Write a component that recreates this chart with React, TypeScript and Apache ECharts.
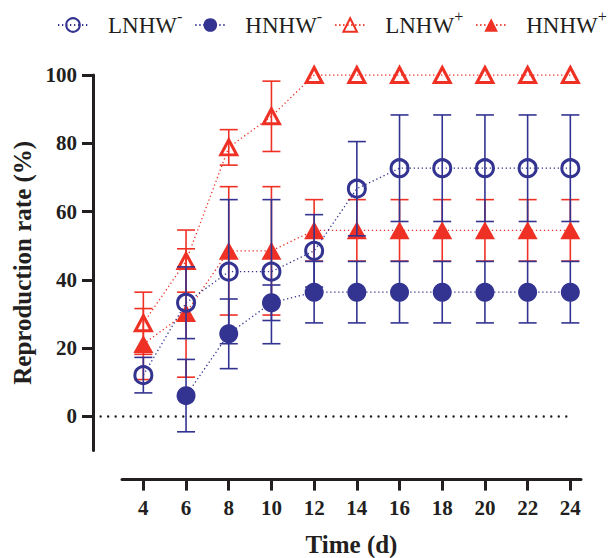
import React, { useEffect, useRef } from 'react';
import * as echarts from 'echarts';

// ---- data ----
const days = [4, 6, 8, 10, 12, 14, 16, 18, 20, 22, 24];
const yTicks = [0, 20, 40, 60, 80, 100];

const lnhwMinus = [12.1, 33.3, 42.4, 42.4, 48.5, 66.7, 72.7, 72.7, 72.7, 72.7, 72.7];
const lnhwMinusErr = [5.2, 10.5, 21.1, 21.1, 10.6, 13.8, 15.6, 15.6, 15.6, 15.6, 15.6];
const hnhwMinus = [null, 6.1, 24.2, 33.3, 36.4, 36.4, 36.4, 36.4, 36.4, 36.4, 36.4];
const hnhwMinusErr = [null, 10.6, 10.2, 5.2, 9.0, 9.0, 9.0, 9.0, 9.0, 9.0, 9.0];
const lnhwPlus = [27.3, 45.5, 78.8, 87.9, 100, 100, 100, 100, 100, 100, 100];
const lnhwPlusErr = [9.1, 9.1, 5.2, 10.3, 0, 0, 0, 0, 0, 0, 0];
const hnhwPlus = [21.2, 30.3, 48.5, 48.5, 54.5, 54.5, 54.5, 54.5, 54.5, 54.5, 54.5];
const hnhwPlusErr = [10.4, 18.8, 18.8, 18.8, 9.0, 9.0, 9.0, 9.0, 9.0, 9.0, 9.0];

const seriesNames = ['LNHW-', 'HNHW-', 'LNHW+', 'HNHW+'];
const zeroLineSpan = [2, 24.1];

// ---- styles ----
const BLUE = '#333391';
const RED = '#ee3124';
const INK = '#231f20';
const FONT = '"Liberation Serif", "Times New Roman", serif';

const pts = (vals: (number | null)[]) => days.map((d, i) => [d, vals[i]]);
const errPts = (vals: (number | null)[], errs: (number | null)[]) =>
  days
    .map((d, i) => [d, vals[i], errs[i]])
    .filter((r) => r[1] != null && r[2] != null && (r[2] as number) > 0);

const errRender = (color: string) => (_p: any, api: any) => {
  const x = api.value(0);
  const y = api.value(1);
  const e = api.value(2);
  const hi = api.coord([x, y + e]);
  const lo = api.coord([x, y - e]);
  const half = 9;
  const style = { stroke: color, lineWidth: 1.6 };
  return {
    type: 'group',
    children: [
      { type: 'line', shape: { x1: hi[0], y1: hi[1], x2: lo[0], y2: lo[1] }, style },
      { type: 'line', shape: { x1: hi[0] - half, y1: hi[1], x2: hi[0] + half, y2: hi[1] }, style },
      { type: 'line', shape: { x1: lo[0] - half, y1: lo[1], x2: lo[0] + half, y2: lo[1] }, style },
    ],
  };
};

const dotted = [1.3, 2.7];

export default function App() {
  const ref = useRef<HTMLDivElement>(null);
  useEffect(() => {
    document.body.style.margin = '0';
    if (!ref.current) return;
    const chart = echarts.init(ref.current, undefined, { renderer: 'svg' });
    const labelFont = { fontFamily: FONT, fontWeight: 'bold' as const, fontSize: 21, color: INK };
    const nameFont = { fontFamily: FONT, fontWeight: 'bold' as const, fontSize: 25, color: INK };
    const option: any = {
      animation: false,
      backgroundColor: '#fff',
      legend: {
        data: seriesNames,
        left: 57,
        top: 8,
        width: 557,
        padding: 0,
        itemWidth: 30,
        itemHeight: 17,
        itemGap: 12,
        formatter: (name: string) => `{m|${name.slice(0, -1)}}{s|${name.slice(-1)}}`,
        textStyle: {
          fontFamily: FONT,
          color: INK,
          fontSize: 23,
          rich: {
            m: { fontFamily: FONT, color: INK, fontSize: 23, lineHeight: 34, padding: [0, 0, 0, 15] },
            s: { fontFamily: FONT, color: INK, fontSize: 16, lineHeight: 15, verticalAlign: 'top' },
          },
        },
      },
      grid: {
        left: 122,
        right: 33,
        top: 75,
        bottom: 107.4,
        containLabel: false,
        outerBoundsMode: 'none',
      },
      xAxis: {
        type: 'value',
        min: 3,
        max: 24.5,
        offset: 29,
        axisLine: { show: true, onZero: false, lineStyle: { color: INK, width: 3 } },
        axisTick: { show: true, length: 11, customValues: days, lineStyle: { color: INK, width: 3 } },
        axisLabel: { customValues: days, margin: 18, ...labelFont },
        splitLine: { show: false },
        name: 'Time (d)',
        nameLocation: 'middle',
        nameGap: 52,
        nameTextStyle: nameFont,
      },
      yAxis: {
        type: 'value',
        min: -10,
        max: 100,
        offset: 29,
        axisLine: { show: true, onZero: false, lineStyle: { color: INK, width: 3 } },
        axisTick: { show: true, length: 11, customValues: yTicks, lineStyle: { color: INK, width: 3 } },
        axisLabel: { customValues: yTicks, margin: 16, ...labelFont },
        splitLine: { show: false },
        name: 'Reproduction rate (%)',
        nameLocation: 'middle',
        nameGap: 55,
        nameTextStyle: nameFont,
      },
      series: [
        {
          name: 'zero',
          type: 'custom',
          silent: true,
          z: 1,
          data: [[zeroLineSpan[0], 0, zeroLineSpan[1]]],
          encode: { x: [0, 2], y: 1 },
          renderItem: (_p: any, api: any) => {
            const a = api.coord([api.value(0), api.value(1)]);
            const b = api.coord([api.value(2), api.value(1)]);
            return {
              type: 'line',
              shape: { x1: a[0], y1: a[1], x2: b[0], y2: b[1] },
              style: { stroke: INK, lineWidth: 2.4, lineDash: [0.01, 7.5], lineCap: 'round' },
            };
          },
        },
        {
          name: 'errLNHW+',
          type: 'custom',
          z: 2,
          data: errPts(lnhwPlus, lnhwPlusErr),
          encode: { x: 0, y: 1 },
          renderItem: errRender(RED),
        },
        {
          name: 'errHNHW+',
          type: 'custom',
          z: 2,
          data: errPts(hnhwPlus, hnhwPlusErr),
          encode: { x: 0, y: 1 },
          renderItem: errRender(RED),
        },
        {
          name: 'LNHW+',
          type: 'line',
          z: 3,
          data: pts(lnhwPlus),
          symbol: 'triangle',
          symbolSize: [16, 15],
          lineStyle: { color: RED, width: 1.3, type: dotted },
          itemStyle: { color: 'transparent', borderColor: RED, borderWidth: 3 },
        },
        {
          name: 'HNHW+',
          type: 'line',
          z: 3,
          data: pts(hnhwPlus),
          symbol: 'triangle',
          symbolSize: [20, 18],
          lineStyle: { color: RED, width: 1.3, type: dotted },
          itemStyle: { color: RED },
        },
        {
          name: 'errLNHW-',
          type: 'custom',
          z: 4,
          data: errPts(lnhwMinus, lnhwMinusErr),
          encode: { x: 0, y: 1 },
          renderItem: errRender(BLUE),
        },
        {
          name: 'errHNHW-',
          type: 'custom',
          z: 4,
          data: errPts(hnhwMinus, hnhwMinusErr),
          encode: { x: 0, y: 1 },
          renderItem: errRender(BLUE),
        },
        {
          name: 'LNHW-',
          type: 'line',
          z: 5,
          data: pts(lnhwMinus),
          symbol: 'circle',
          symbolSize: 17,
          lineStyle: { color: BLUE, width: 1.3, type: dotted },
          itemStyle: { color: 'transparent', borderColor: BLUE, borderWidth: 3 },
        },
        {
          name: 'HNHW-',
          type: 'line',
          z: 5,
          data: pts(hnhwMinus),
          symbol: 'circle',
          symbolSize: 19,
          lineStyle: { color: BLUE, width: 1.3, type: dotted },
          itemStyle: { color: BLUE },
        },
      ],
    };
    chart.setOption(option);
    return () => chart.dispose();
  }, []);
  return <div ref={ref} style={{ width: 614, height: 558 }} />;
}
